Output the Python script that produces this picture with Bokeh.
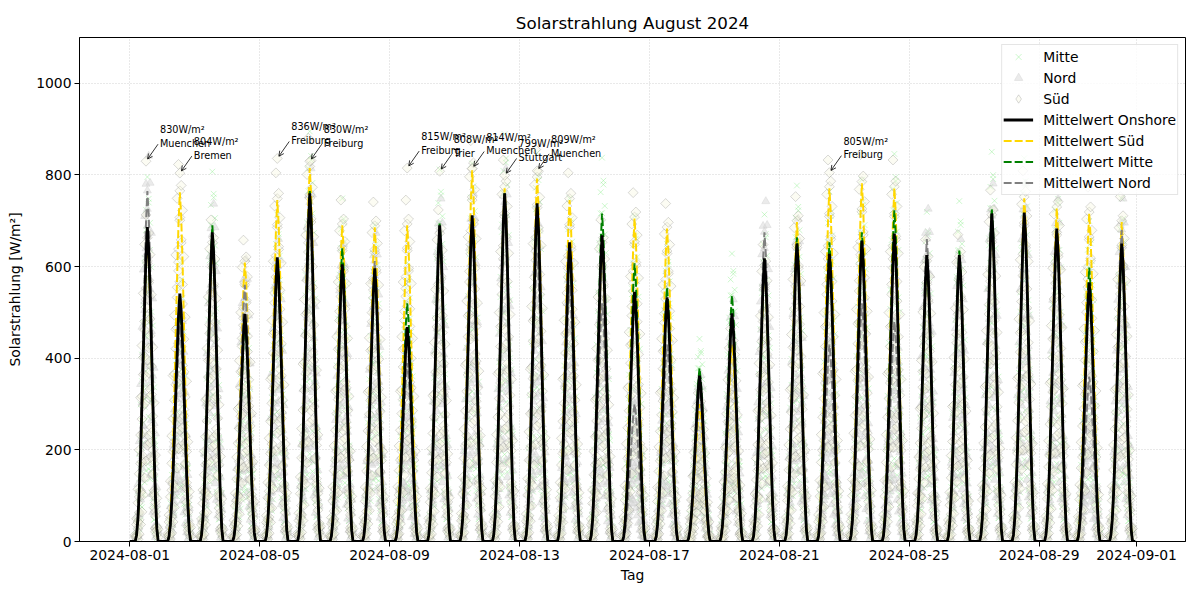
import numpy as np
from bokeh.plotting import figure
from bokeh.models import (ColumnDataSource, Range1d, FixedTicker, DatetimeTickFormatter,
                          Legend, LegendItem, Arrow, OpenHead)
from bokeh.embed import file_html
from bokeh.resources import INLINE
from bokeh.core.properties import value

FONT = "DejaVu Sans"

# Daily peaks (W/m²) of the hourly regional means, August 1..31
peak_onshore = [686, 541, 675, 497, 620, 760, 605, 596, 468, 690, 712, 760, 738, 653, 668, 545,
                533, 362, 498, 618, 650, 628, 657, 672, 625, 625, 716, 718, 683, 565, 650]
peak_sued = [660, 762, 650, 609, 745, 815, 690, 686, 690, 670, 810, 771, 792, 745, 650, 705,
             683, 300, 430, 600, 697, 771, 782, 771, 610, 620, 710, 749, 727, 716, 697]
peak_mitte = [680, 520, 690, 480, 610, 765, 640, 590, 520, 694, 705, 760, 725, 640, 716, 607,
              555, 378, 537, 610, 664, 653, 675, 723, 615, 635, 727, 715, 680, 598, 640]
peak_nord = [765, 470, 670, 560, 600, 740, 590, 612, 390, 680, 690, 740, 630, 560, 520, 300,
             430, 330, 480, 675, 640, 430, 520, 480, 660, 600, 710, 710, 680, 360, 680]

# Share of the daily peak for each hour of the day (0..23)
hour_profile = [0, 0, 0, 0, 0, 0.02, 0.07, 0.16, 0.28, 0.44, 0.60, 0.76, 0.91, 1.0,
                0.93, 0.80, 0.63, 0.45, 0.28, 0.14, 0.04, 0, 0, 0]

# Station level relative to the regional mean, and hour offset of each station
mitte_station_scale = [0.25, 0.5, 0.72, 0.88, 1.0, 1.1, 1.17]
mitte_station_shift = [0, 1, -1, 0, 1, -1, 0]
nord_station_scale = [0.3, 0.55, 0.75, 0.9, 1.02, 1.1]
nord_station_shift = [1, 0, -1, 0, 1, -1]
sued_station_scale = [0.35, 0.6, 0.8, 0.92, 1.02, 1.08]
sued_station_shift = [-1, 0, 1, 0, -1, 1]

# Highest station readings of a day
annot_day = [1, 2, 5, 6, 9, 10, 11, 12, 13, 22]
annot_hour = [12, 13, 13, 13, 13, 13, 13, 13, 13, 13]
annot_value = [830, 804, 836, 830, 815, 808, 814, 799, 809, 805]
annot_city = ["Muenchen", "Bremen", "Freiburg", "Freiburg", "Freiburg", "Trier",
              "Muenchen", "Stuttgart", "Muenchen", "Freiburg"]

tick_dates = ["2024-08-01", "2024-08-05", "2024-08-09", "2024-08-13", "2024-08-17",
              "2024-08-21", "2024-08-25", "2024-08-29", "2024-09-01"]
y_ticks = [0, 200, 400, 600, 800, 1000]

t0 = np.datetime64("2024-08-01T00:00")
HOUR_MS = 3600 * 1000.0
t0_ms = t0.astype("datetime64[ms]").astype(np.int64).astype(float)


def to_ms(day, hour):
    return t0_ms + ((day - 1) * 24 + hour) * HOUR_MS


def hourly_series(peaks):
    xs, ys = [], []
    for d, pk in enumerate(peaks, start=1):
        for h in range(24):
            xs.append(to_ms(d, h))
            ys.append(pk * hour_profile[h])
    return xs, ys


def station_points(peaks, scales, shifts):
    xs, ys = [], []
    for d, pk in enumerate(peaks, start=1):
        for h in range(24):
            for sc, sh in zip(scales, shifts):
                hh = h + sh
                if 0 <= hh < 24 and hour_profile[hh] > 0:
                    xs.append(to_ms(d, h))
                    ys.append(pk * hour_profile[hh] * sc)
    return xs, ys


x_first = to_ms(1, 0)
x_last = to_ms(31, 23)
pad = (x_last - x_first) * 0.05
x_lo, x_hi = x_first - pad, x_last + pad
y_lo, y_hi = 0, 1100

W, H = 1200, 600
ML, MR, MT, MB = 79, 15, 37, 59

p = figure(width=W, height=H, x_axis_type="datetime", output_backend="svg",
           toolbar_location=None, x_range=Range1d(x_lo, x_hi), y_range=Range1d(y_lo, y_hi),
           title="Solarstrahlung August 2024")
p.min_border_left = ML
p.min_border_right = MR
p.min_border_top = MT
p.min_border_bottom = MB
p.background_fill_color = "white"
p.border_fill_color = "white"
p.outline_line_color = "black"
p.outline_line_width = 1
p.outline_line_alpha = 1

p.title.align = "center"
p.title.text_font = FONT
p.title.text_font_size = "16.7px"
p.title.text_font_style = "normal"
p.title.text_color = "black"

px_per_ms = (W - ML - MR) / (x_hi - x_lo)
px_per_val = (H - MT - MB) / (y_hi - y_lo)

# station scatter
mx, my = station_points(peak_mitte, mitte_station_scale, mitte_station_shift)
nx, ny = station_points(peak_nord, nord_station_scale, nord_station_shift)
sx, sy = station_points(peak_sued, sued_station_scale, sued_station_shift)

r_mitte = p.scatter(mx, my, marker="x", size=8, line_color="lightgreen", line_alpha=0.45, line_width=1)
r_nord = p.scatter(nx, ny, marker="triangle", size=8, fill_color="lightgray", fill_alpha=0.45,
                   line_color="lightgray", line_alpha=0.45)
sued_style = dict(fill_color="beige", fill_alpha=0.35, line_color="gray", line_alpha=0.3)
p.scatter(sx, sy, marker="square", angle=np.pi / 4, size=7, **sued_style)

# maximum readings
ax_ms = [to_ms(d, h) for d, h in zip(annot_day, annot_hour)]
p.scatter(ax_ms, annot_value, marker="square", angle=np.pi / 4, size=7, **sued_style)

# legend key for the Süd stations (a point with no position, only shown in the legend)
r_sued_key = p.scatter([np.nan], [np.nan], marker="diamond", size=12, **sued_style)

# regional means
dash = "8 3"
xs_s, ys_s = hourly_series(peak_sued)
xs_m, ys_m = hourly_series(peak_mitte)
xs_n, ys_n = hourly_series(peak_nord)
xs_o, ys_o = hourly_series(peak_onshore)
r_ls = p.line(xs_s, ys_s, line_color="gold", line_width=2, line_dash=dash)
r_lm = p.line(xs_m, ys_m, line_color="green", line_width=2, line_dash=dash)
r_ln = p.line(xs_n, ys_n, line_color="gray", line_width=2, line_dash=dash)
r_lo = p.line(xs_o, ys_o, line_color="black", line_width=2.8)

# annotations with arrows
dx_text = 14 / px_per_ms
dy_text = 37 / px_per_val
labels = [f"{v}W/m²\n{c}" for v, c in zip(annot_value, annot_city)]
src = ColumnDataSource(dict(x=[x + dx_text for x in ax_ms],
                            y=[v + dy_text for v in annot_value], text=labels))
p.text(x="x", y="y", text="text", source=src, text_font=value(FONT),
       text_font_size="9.7px", text_baseline="top", text_align="left", text_color="black",
       text_line_height=1.25)
for x, v in zip(ax_ms, annot_value):
    p.add_layout(Arrow(end=OpenHead(size=5, line_width=0.8, line_color="black"),
                       x_start=x + 12 / px_per_ms, y_start=v + 17 / px_per_val,
                       x_end=x + 1.6 / px_per_ms, y_end=v + 2.2 / px_per_val,
                       line_width=0.8, line_color="black"))

# axes
tick_ms = [np.datetime64(t).astype("datetime64[ms]").astype(np.int64).astype(float) for t in tick_dates]
p.xaxis.ticker = FixedTicker(ticks=tick_ms)
fmt = "%Y-%m-%d"
p.xaxis.formatter = DatetimeTickFormatter(days=fmt, months=fmt, years=fmt, hours=fmt,
                                          hourmin=fmt, minutes=fmt)
p.yaxis.ticker = FixedTicker(ticks=y_ticks)
p.xaxis.axis_label = "Tag"
p.yaxis.axis_label = "Solarstrahlung [W/m²]"
for ax in (p.xaxis, p.yaxis):
    ax.axis_label_text_font = FONT
    ax.axis_label_text_font_size = "13.9px"
    ax.axis_label_text_font_style = "normal"
    ax.axis_label_text_color = "black"
    ax.major_label_text_font = FONT
    ax.major_label_text_font_size = "13.9px"
    ax.major_label_text_color = "black"
    ax.major_tick_out = 5
    ax.major_tick_in = 0
    ax.minor_tick_out = 0
    ax.minor_tick_in = 0
    ax.axis_line_color = "black"
    ax.major_tick_line_color = "black"
p.xaxis.axis_label_standoff = 4
p.yaxis.axis_label_standoff = 10
p.xaxis.major_label_standoff = 3
p.yaxis.major_label_standoff = 3

p.grid.grid_line_color = "#c8c8c8"
p.grid.grid_line_dash = "1 2"
p.grid.grid_line_width = 0.8

legend = Legend(items=[
    LegendItem(label="Mitte", renderers=[r_mitte]),
    LegendItem(label="Nord", renderers=[r_nord]),
    LegendItem(label="Süd", renderers=[r_sued_key]),
    LegendItem(label="Mittelwert Onshore", renderers=[r_lo]),
    LegendItem(label="Mittelwert Süd", renderers=[r_ls]),
    LegendItem(label="Mittelwert Mitte", renderers=[r_lm]),
    LegendItem(label="Mittelwert Nord", renderers=[r_ln]),
], location="top_right")
legend.label_text_font = FONT
legend.label_text_font_size = "13.9px"
legend.label_text_color = "black"
legend.border_line_color = "#cccccc"
legend.border_line_width = 1
legend.background_fill_alpha = 0.8
legend.margin = 7
legend.padding = 1
legend.spacing = 0
legend.label_height = 21
legend.glyph_height = 21
legend.glyph_width = 30
legend.label_standoff = 10
p.add_layout(legend)

open("out.html", "w").write(file_html(p, INLINE))
